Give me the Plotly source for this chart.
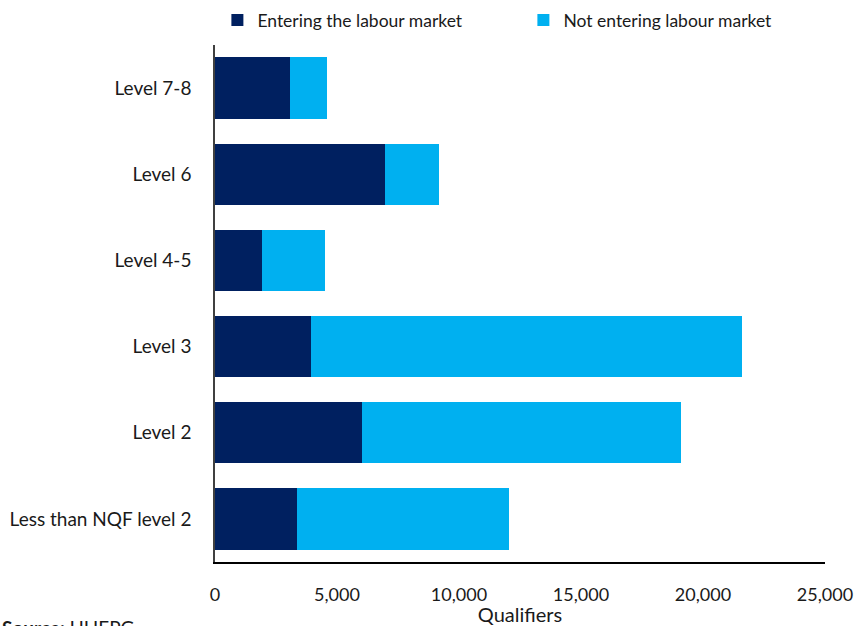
import plotly.graph_objects as go

# Qualifiers by NQF level, split by labour market destination
levels = ["Less than NQF level 2", "Level 2", "Level 3", "Level 4-5", "Level 6", "Level 7-8"]
entering = [3350, 6020, 3930, 1930, 6970, 3070]
not_entering = [8690, 13090, 17660, 2570, 2200, 1520]
x_ticks = [0, 5000, 10000, 15000, 20000, 25000]
x_tick_labels = ["0", "5,000", "10,000", "15,000", "20,000", "25,000"]

FONT = "Lato, 'Open Sans', sans-serif"
FIG_W, FIG_H = 856, 626
PLOT_W, PLOT_H = 610, 517

fig = go.Figure()
fig.add_trace(go.Bar(
    y=levels, x=entering, orientation="h",
    name="Entering the labour market",
    marker=dict(color="#002060", line=dict(width=0)),
))
fig.add_trace(go.Bar(
    y=levels, x=not_entering, orientation="h",
    name="Not entering labour market",
    marker=dict(color="#00B0F0", line=dict(width=0)),
))

fig.update_layout(
    barmode="stack",
    bargap=0.29,
    width=FIG_W, height=FIG_H,
    margin=dict(l=215, r=31, t=45, b=64, autoexpand=False),
    paper_bgcolor="white", plot_bgcolor="white",
    font=dict(family=FONT, size=18, color="#1a1a1a"),
    legend=dict(
        orientation="h",
        x=-0.001, xanchor="left",
        y=1 + (45 - 20) / PLOT_H, yanchor="middle",
        font=dict(size=17.5), itemwidth=30, traceorder="normal",
        indentation=3, entrywidth=258,
    ),
    xaxis=dict(
        range=[0, 25000], tickvals=x_ticks, ticktext=x_tick_labels,
        showgrid=False, zeroline=False,
        showline=True, linecolor="#000000", linewidth=1.5,
        ticks="", ticklabelstandoff=16, tickfont=dict(size=18),
        title=dict(text="Qualifiers", standoff=10, font=dict(size=20)),
    ),
    yaxis=dict(
        showgrid=False, zeroline=False,
        showline=True, linecolor="#404040", linewidth=1.5,
        ticks="", ticklabelstandoff=18, tickfont=dict(size=19),
    ),
    annotations=[dict(
        text="<b>Source:</b> UHEPG", xref="paper", yref="paper",
        x=-215 / PLOT_W, y=-(614 - 562) / PLOT_H, xanchor="left", yanchor="top",
        showarrow=False, font=dict(size=19),
    )],
)

fig.write_html("out.html")
